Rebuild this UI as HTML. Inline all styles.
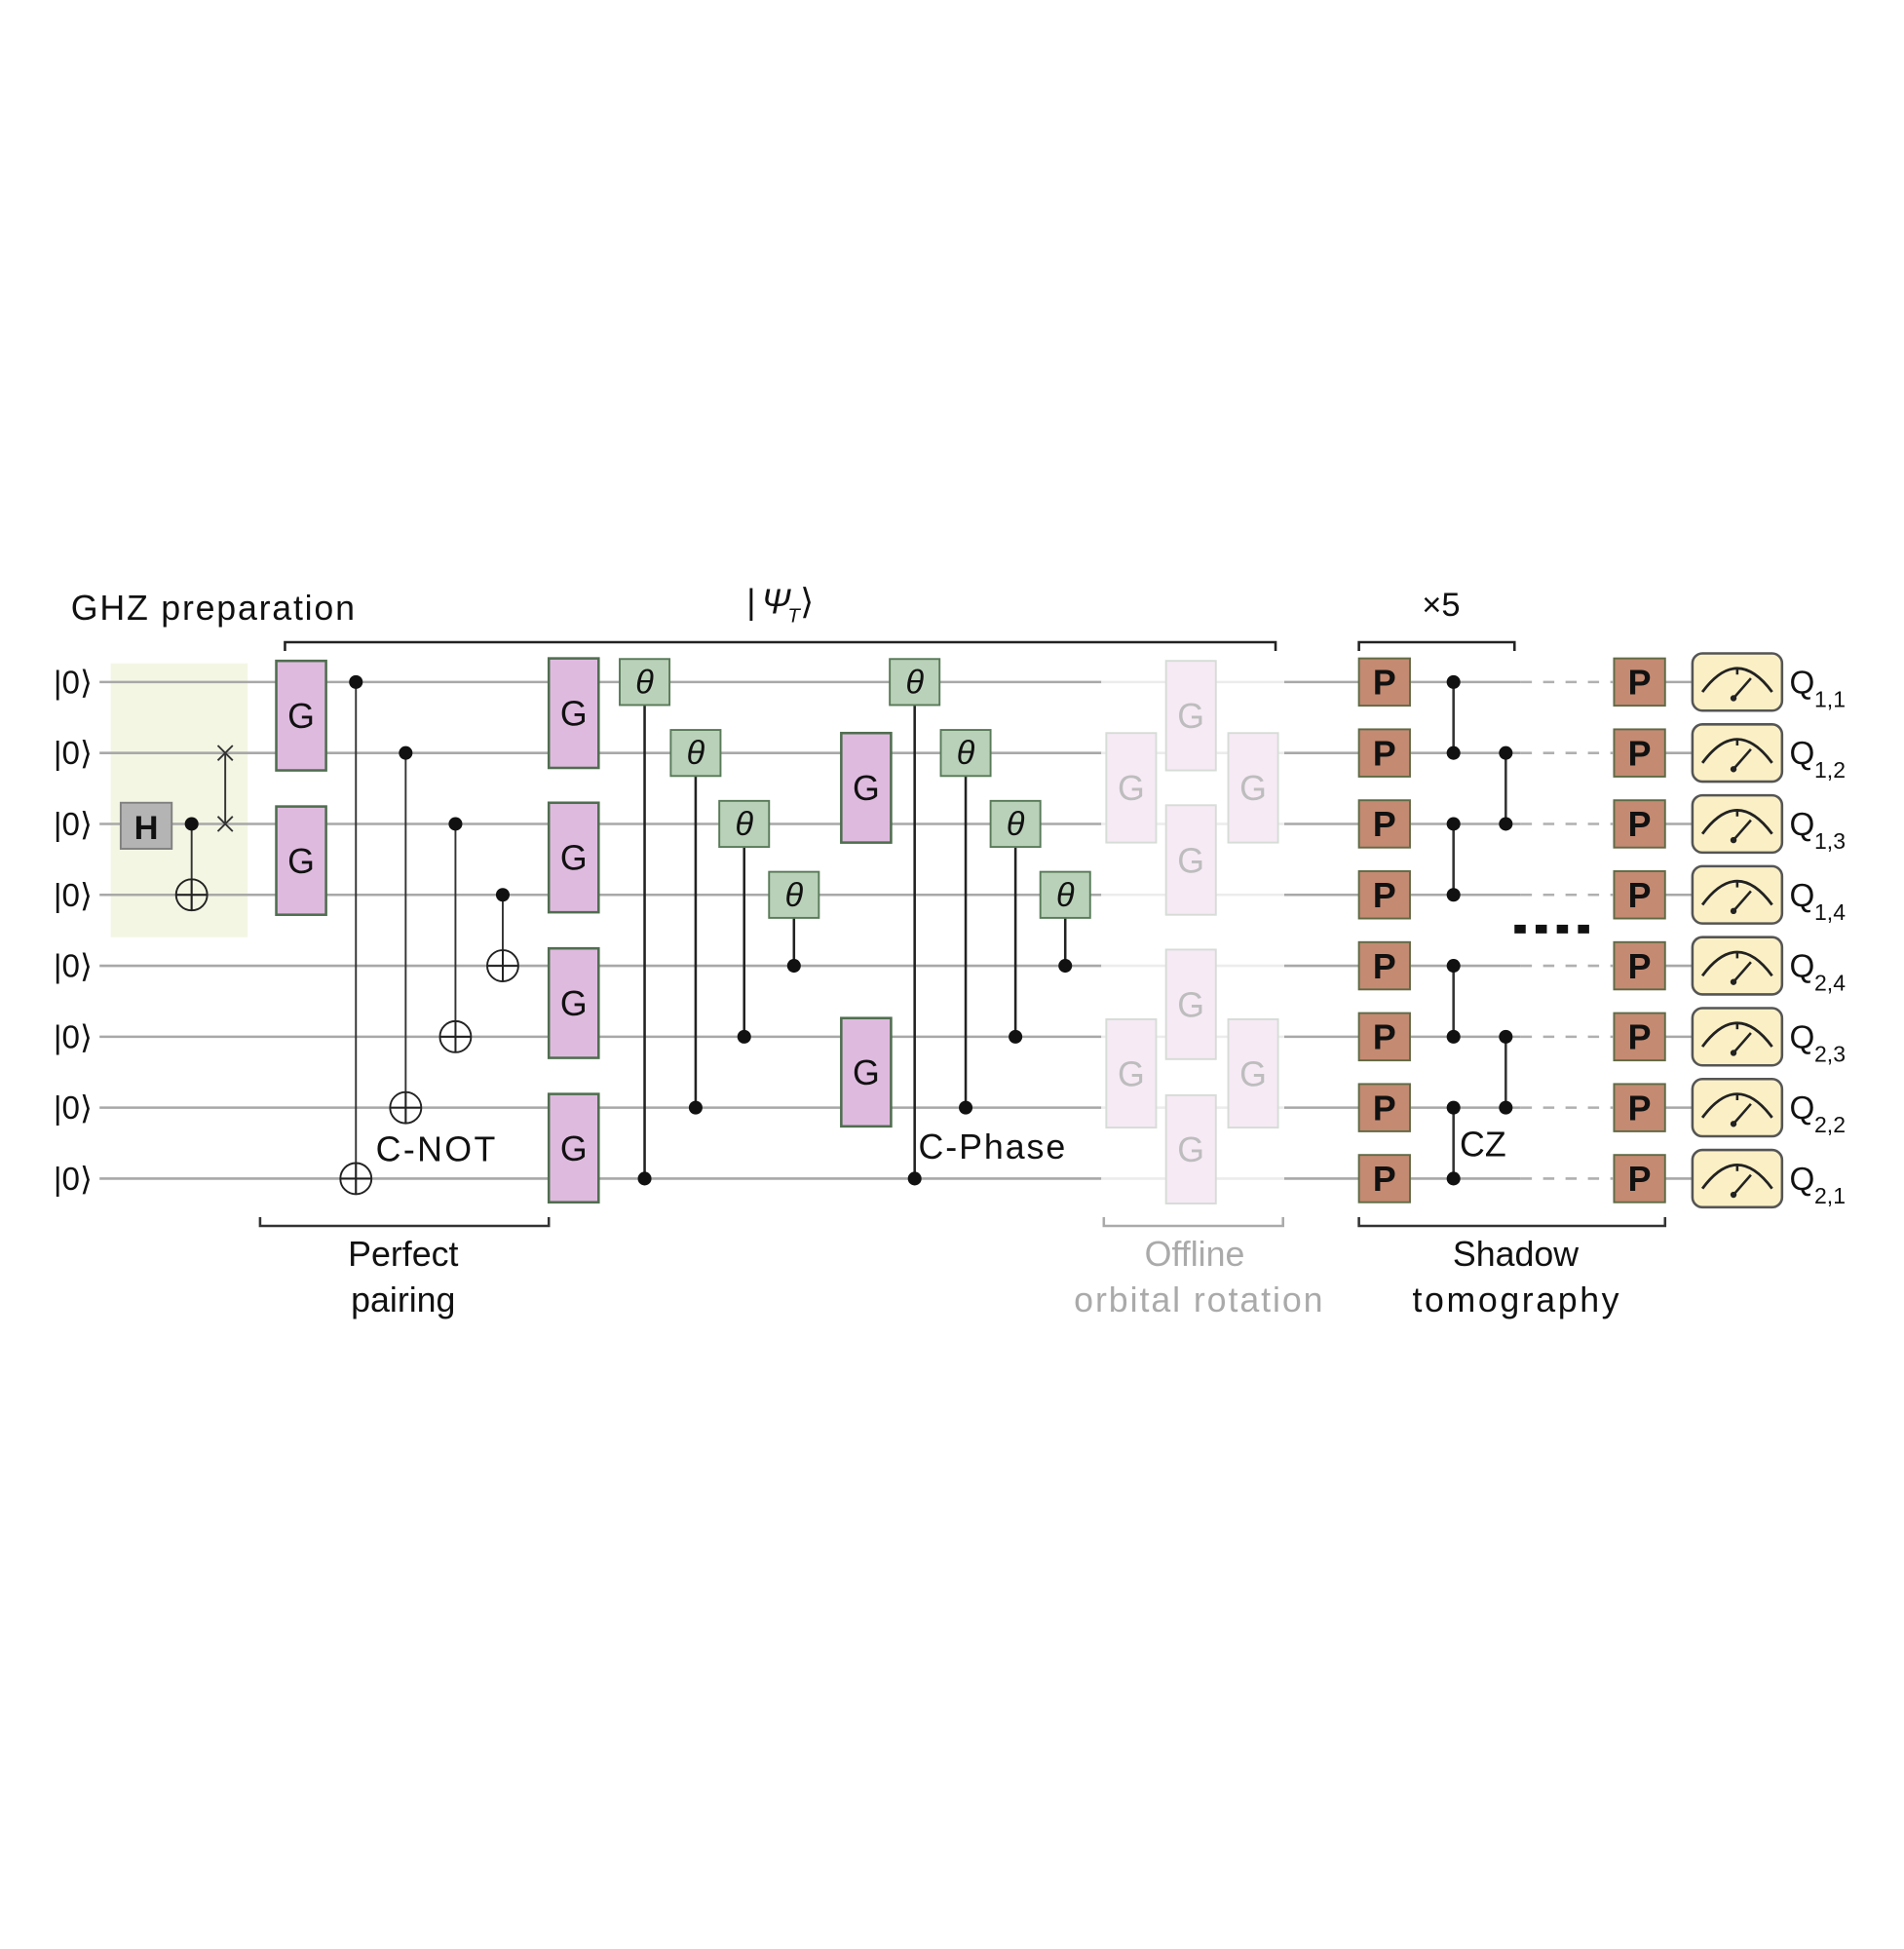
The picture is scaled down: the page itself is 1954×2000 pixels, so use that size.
<!DOCTYPE html>
<html><head><meta charset="utf-8"><style>
html,body{margin:0;padding:0;background:#fff;}
svg{display:block;}
text{font-family:"Liberation Sans",sans-serif;}
</style></head>
<body>
<svg id="c" width="1954" height="2000" viewBox="0 0 1530 1566" preserveAspectRatio="none" xmlns="http://www.w3.org/2000/svg">
<rect x="0" y="0" width="1530" height="1566" fill="#fff"/>
</svg>
<script>
const wiresY=[548,605,662,719,776,833,890,947];
const qLabels=[["1","1"],["1","2"],["1","3"],["1","4"],["2","4"],["2","3"],["2","2"],["2","1"]];
const cnots=[[286,0,7],[326,1,6],[366,2,5],[404,3,4]];
const phases1=[[518,0,7],[559,1,6],[598,2,5],[638,3,4]];
const phases2=[[735,0,7],[776,1,6],[816,2,5],[856,3,4]];
const czs=[[1168,0,1],[1168,2,3],[1168,4,5],[1168,6,7],[1210,1,2],[1210,5,6]];
const svg=document.getElementById('c');
const NS='http://www.w3.org/2000/svg';
function el(tag,attrs,parent){const e=document.createElementNS(NS,tag);for(const k in attrs)e.setAttribute(k,attrs[k]);(parent||svg).appendChild(e);return e;}
function txt(x,y,s,size,fill,anchor,extra){const t=el('text',Object.assign({x:x,y:y,'font-size':size,fill:fill,'text-anchor':anchor||'start'},extra||{}));t.textContent=s;return t;}

let bg=el('rect',{x:89,y:533,width:110,height:220,fill:'#f3f6e3'});



wiresY.forEach((y,i)=>{
  let w=el('line',{x1:80,y1:y,x2:885,y2:y,stroke:'#a8a8a8','stroke-width':2});
  
  
  el('line',{x1:885,y1:y,x2:1032,y2:y,stroke:'#ececec','stroke-width':2});
  el('line',{x1:1032,y1:y,x2:1222,y2:y,stroke:'#a8a8a8','stroke-width':2});
  el('line',{x1:1222,y1:y,x2:1296,y2:y,stroke:'#b0b0b0','stroke-width':2,'stroke-dasharray':'9 9'});
  el('line',{x1:1337,y1:y,x2:1360,y2:y,stroke:'#a8a8a8','stroke-width':2});
  let l=txt(43,y+9,'|0⟩',26,'#111');
  
  
});

txt(57,498,'GHZ preparation',28,'#111','start',{textLength:228});
let h=el('rect',{x:97,y:645,width:41,height:37,fill:'#b4b4b4',stroke:'#808080','stroke-width':1.5});


txt(117.5,674,'H',27,'#111','middle',{'font-weight':'bold'});
function ctrl(x,y){let d=el('circle',{cx:x,cy:y,r:5.5,fill:'#111'});}
function targ(x,y){let g=el('g',{});el('circle',{cx:x,cy:y,r:12.5,fill:'none',stroke:'#222','stroke-width':1.5},g);el('line',{x1:x-12.5,y1:y,x2:x+12.5,y2:y,stroke:'#222','stroke-width':1.5},g);el('line',{x1:x,y1:y-12.5,x2:x,y2:y+12.5,stroke:'#222','stroke-width':1.5},g);}
el('line',{x1:154,y1:662,x2:154,y2:731,stroke:'#333','stroke-width':1.5});
ctrl(154,662);targ(154,719);
el('line',{x1:181,y1:605,x2:181,y2:662,stroke:'#333','stroke-width':1.5});
[605,662].forEach(y=>{el('path',{d:`M175 ${y-6}L187 ${y+6}M187 ${y-6}L175 ${y+6}`,stroke:'#333','stroke-width':1.5,fill:'none'});});

function gGate(x,y1,y2,faded){
  let g=el('g',{});
  
  
  el('rect',{x:x,y:y1,width:40,height:y2-y1,fill:faded?'#f6eaf5':'#dfbadf',stroke:faded?'#d6dcd6':'#4f6e4f','stroke-width':faded?1.5:2},g);
  let t=txt(x+20,(y1+y2)/2+10,'G',28,faded?'#bdbdbd':'#111','middle');g.appendChild(t);
}
gGate(222,531,619);gGate(222,648,735);
cnots.forEach(c=>{el('line',{x1:c[0],y1:wiresY[c[1]],x2:c[0],y2:wiresY[c[2]]+12,stroke:'#333','stroke-width':1.5});ctrl(c[0],wiresY[c[1]]);targ(c[0],wiresY[c[2]]);});
txt(302,933,'C-NOT',28,'#111','start',{textLength:96});
[[441,529,617],[441,645,733],[441,762,850],[441,879,966],[676,589,677],[676,818,905]].forEach(g=>gGate(g[0],g[1],g[2]));
function phase(p){
  el('line',{x1:p[0],y1:wiresY[p[1]],x2:p[0],y2:wiresY[p[2]],stroke:'#222','stroke-width':2});
  ctrl(p[0],wiresY[p[2]]);
  let g=el('g',{});
  
  
  el('rect',{x:p[0]-20,y:wiresY[p[1]]-18.5,width:40,height:37,fill:'#b9d1b9',stroke:'#587a58','stroke-width':1.5},g);
  g.appendChild(txt(p[0],wiresY[p[1]]+9,'θ',27,'#111','middle',{'font-style':'italic','font-family':'Liberation Serif, serif'}));
}
phases1.forEach(phase);phases2.forEach(phase);
txt(738,931,'C-Phase',28,'#111','start',{textLength:118});
[[889,589,677],[937,531,619],[937,647,735],[987,589,677],[889,819,906],[937,763,851],[937,880,967],[987,819,906]].forEach(g=>gGate(g[0],g[1],g[2],true));

function bracket(x1,x2,y,up,color,name){
  let d=up?`M${x1} ${y-7}L${x1} ${y}L${x2} ${y}L${x2} ${y-7}`:`M${x1} ${y+7}L${x1} ${y}L${x2} ${y}L${x2} ${y+7}`;
  let b=el('path',{d:d,stroke:color,'stroke-width':2,fill:'none'});
  
  
}
bracket(229,1025,516,false,'#222','trial-state-bracket');
txt(600,493,'|',28,'#111');
txt(612,493,'Ψ',28,'#111','start',{'font-style':'italic','font-family':'Liberation Serif, serif'});
txt(633,500,'T',16,'#111','start',{'font-style':'italic','font-family':'Liberation Serif, serif'});
txt(643,493,'⟩',28,'#111');
bracket(209,441,985,true,'#333','perfect-pairing-bracket');
txt(324,1017,'Perfect',28,'#111','middle');txt(324,1054,'pairing',28,'#111','middle');
bracket(887,1031,985,true,'#aaa','offline-rotation-bracket');
txt(960,1017,'Offline',28,'#aaa','middle');txt(963,1054,'orbital rotation',28,'#aaa','middle',{textLength:200});
bracket(1092,1217,516,false,'#222','repeat-bracket');
txt(1158,495,'×5',27,'#111','middle');
bracket(1092,1338,985,true,'#333','shadow-bracket');
txt(1218,1017,'Shadow',28,'#111','middle');txt(1218,1054,'tomography',28,'#111','middle',{textLength:166});

czs.forEach(c=>{el('line',{x1:c[0],y1:wiresY[c[1]],x2:c[0],y2:wiresY[c[2]],stroke:'#333','stroke-width':2});ctrl(c[0],wiresY[c[1]]);ctrl(c[0],wiresY[c[2]]);});
txt(1173,929,'CZ',28,'#111');
for(let i=0;i<4;i++){el('rect',{x:1217+i*17,y:743,width:9,height:7,fill:'#111'});}

wiresY.forEach((y,i)=>{
  [1092,1297].forEach(x=>{
    let g=el('g',{});
    
    
    el('rect',{x:x,y:y-19,width:41,height:38,fill:'#c48a72',stroke:'#5f6a45','stroke-width':1.5},g);
    g.appendChild(txt(x+20.5,y+10,'P',28,'#111','middle',{'font-weight':'bold'}));
  });
  let m=el('g',{});
  
  
  el('rect',{x:1360,y:y-23,width:72,height:46,rx:8,fill:'#fbf0c5',stroke:'#555','stroke-width':2},m);
  el('path',{d:`M1368 ${y+8}Q1396 ${y-30} 1424 ${y+8}`,fill:'none',stroke:'#222','stroke-width':2.2},m);
  el('line',{x1:1396,y1:y-11,x2:1396,y2:y-6,stroke:'#222','stroke-width':2},m);
  el('line',{x1:1393,y1:y+13,x2:1407,y2:y-3,stroke:'#222','stroke-width':2},m);
  el('circle',{cx:1393,cy:y+13,r:2.5,fill:'#222'},m);
  let q=txt(1438,y+9,'Q',26,'#111');
  
  
  txt(1458,y+20,qLabels[i][0]+','+qLabels[i][1],18,'#111');
});
</script>
</body></html>
